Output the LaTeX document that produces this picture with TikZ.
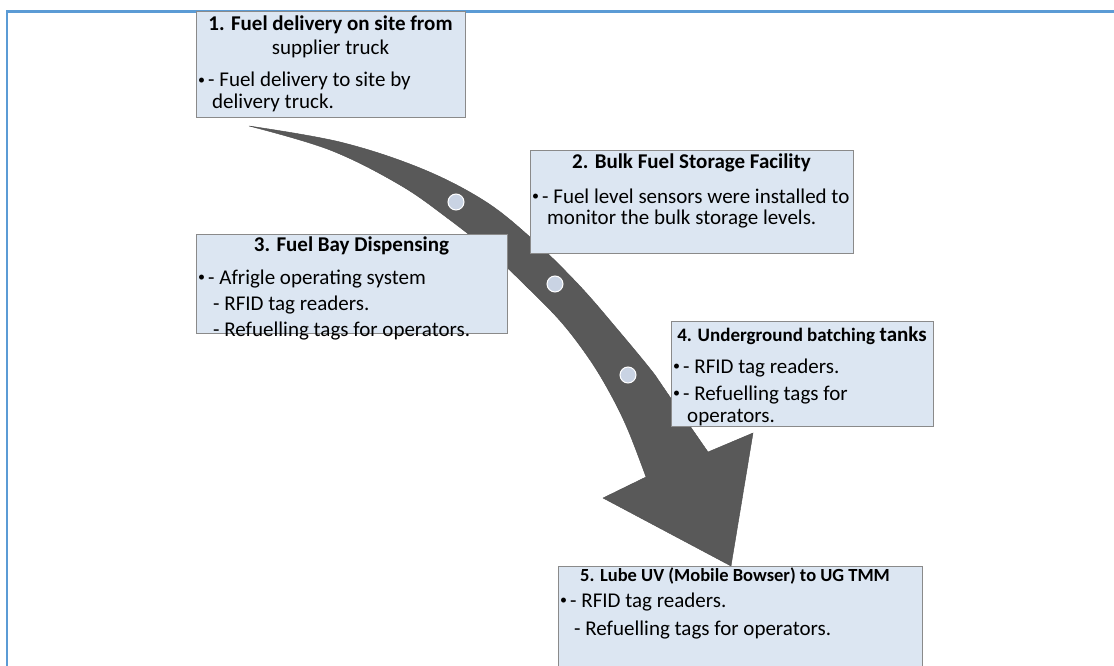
\documentclass[tikz,border=0pt]{standalone}
\usepackage{fontspec}
\setmainfont{Carlito}
\definecolor{framebl}{HTML}{5B9BD5}
\definecolor{boxfill}{HTML}{DCE6F2}
\definecolor{boxline}{HTML}{8A8A8A}
\definecolor{arrowgray}{HTML}{595959}
\definecolor{dotfill}{HTML}{C9D3E3}
% small list bullet followed by the text indent
\newcommand\blt{\makebox[11pt][l]{\hspace{1pt}\raisebox{2.5pt}{\fontsize{14}{14}\selectfont\textbullet}}}
\begin{document}
\begin{tikzpicture}[x=1pt,y=-1pt,
  stagebox/.style={draw=boxline,fill=boxfill,line width=1pt,inner sep=0pt,anchor=north west},
  ttl/.style={inner sep=0pt,anchor=base,font=\fontsize{21}{25}\selectfont\bfseries},
  ttlsm/.style={inner sep=0pt,anchor=base,font=\fontsize{18.5}{22}\selectfont\bfseries},
  txtc/.style={inner sep=0pt,anchor=base,font=\fontsize{21}{25}\selectfont},
  txt/.style={inner sep=0pt,anchor=base west,font=\fontsize{21}{25}\selectfont},
  stepdot/.style={circle,fill=dotfill,draw=white,line width=1pt,minimum size=16pt,inner sep=0pt}]
\useasboundingbox (0,0) rectangle (1114,666);
\clip (0,0) rectangle (1114,666);

% outer frame
\draw[framebl,line width=2.2pt] (7,670) -- (7,11.5) -- (1118,11.5);

% curved process arrow
\fill[arrowgray,draw=arrowgray!85!black,line width=0.4pt]
  plot[smooth,tension=0.6] coordinates {(249,126) (340,142) (420,168) (483,200) (530,237) (578,284) (618,330) (655,375) (672,400) (708,452)}
  -- (753,433) -- (731,566) -- (603,498)
  -- plot[smooth,tension=0.6] coordinates {(646,477) (628,430) (611,395) (590,360) (562,323) (528,288) (490,252) (450,220) (400,185) (330,150) (249,126)}
  -- cycle;

% step markers on the arrow
\node[stepdot] (d1) at (456,202) {};
\node[stepdot] (d2) at (555,284) {};
\node[stepdot] (d3) at (628,375) {};

% stage boxes
\node[stagebox,minimum width=269pt,minimum height=106pt] (b1) at (196,11) {};
\node[stagebox,minimum width=323pt,minimum height=103pt] (b2) at (530,150) {};
\node[stagebox,minimum width=311pt,minimum height=99pt] (b3) at (196,234) {};
\node[stagebox,minimum width=262pt,minimum height=105pt] (b4) at (671,321) {};
\node[stagebox,minimum width=364pt,minimum height=134pt] (b5) at (558,566) {};

% stage 1
\node[ttl] (t1a) at (330.5,31) {1. Fuel delivery on site from};
\node[txtc] (t1b) at (330.5,55) {supplier truck};
\node[txt] (t1c) at (197,87) {\blt- Fuel delivery to site by};
\node[txt] (t1d) at (212,109) {delivery truck.};

% stage 2
\node[ttl] (t2a) at (691.5,168) {2. Bulk Fuel Storage Facility};
\node[txt] (t2b) at (531,203) {\blt- Fuel level sensors were installed to};
\node[txt] (t2c) at (547,224) {monitor the bulk storage levels.};

% stage 3
\node[ttl] (t3a) at (351.5,251) {3. Fuel Bay Dispensing};
\node[txt] (t3b) at (197,284) {\blt- Afrigle operating system};
\node[txt] (t3c) at (213,310) {- RFID tag readers.};
\node[txt] (t3d) at (213,336) {- Refuelling tags for operators.};

% stage 4
\node[ttl] (t4a) at (802,341) {{\fontsize{19}{22}\selectfont 4. Underground batching} tanks};
\node[txt] (t4b) at (672,373) {\blt- RFID tag readers.};
\node[txt] (t4c) at (672,400) {\blt- Refuelling tags for};
\node[txt] (t4d) at (687,422) {operators.};

% stage 5
\node[ttlsm] (t5a) at (735,581) {5. Lube UV (Mobile Bowser) to UG TMM};
\node[txt] (t5b) at (559,607) {\blt- RFID tag readers.};
\node[txt] (t5c) at (574,635) {- Refuelling tags for operators.};
\end{tikzpicture}
\end{document}
